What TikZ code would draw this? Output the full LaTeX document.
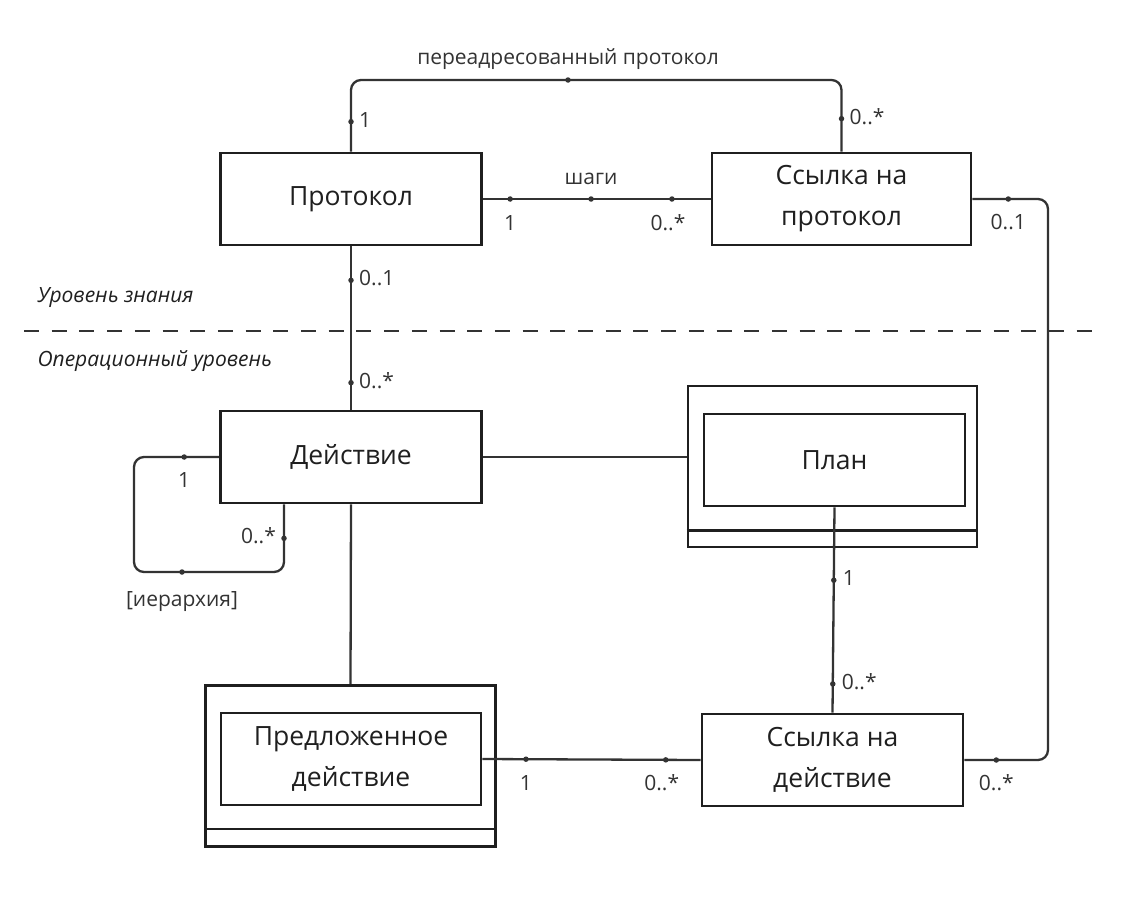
\documentclass[tikz,border=0pt]{standalone}
\usepackage{fontspec}
\setmainfont{Open Sans}
\usepackage{tikz}
\usetikzlibrary{positioning}
\definecolor{inkdark}{HTML}{1F1F1F}
\definecolor{inkline}{HTML}{333333}

\begin{document}
\begin{tikzpicture}[x=1pt, y=-1pt,
      klass/.style={draw=inkdark, line width=2.6pt, align=center, minimum width=261pt,
                    minimum height=92pt, inner sep=2pt, text=inkdark,
                    font=\fontsize{26.5}{41}\selectfont},
      frame/.style={draw=inkdark, line width=2.6pt, minimum width=289pt, minimum height=161pt},
      link/.style={draw=inkline, line width=2.3pt, rounded corners=10pt},
      dot/.style={circle, fill=inkline, inner sep=0pt, minimum size=5.5pt},
      mult/.style={font=\fontsize{21}{25}\selectfont, text=inkline, inner sep=1pt,
                   text height=15pt, text depth=4pt},
      level/.style={font=\fontsize{21}{25}\selectfont\itshape, text=inkdark, anchor=west},
      node distance=4pt]
    \useasboundingbox (0,0) rectangle (1140,907);

    \node[klass] (protokol) at (351,199) {Протокол};
    \node[klass, minimum width=259pt] (sslprot) at (841.5,199) {Ссылка на\\протокол};
    \node[klass] (dejstvie) at (351,457) {Действие};
    \node[frame] (planframe) at (832.5,466.5) {};
    \node[klass] (plan) at (834.5,460) {План};
    \node[frame, minimum width=290pt] (propframe) at (350.5,766) {};
    \node[klass, minimum width=260pt] (proposed) at (351,759) {Предложенное\\действие};
    \node[klass] (ssldej) at (832.5,760) {Ссылка на\\действие};
    \draw[draw=inkdark, line width=2.6pt] ([yshift=18pt]planframe.south west) -- ([yshift=18pt]planframe.south east);
    \draw[draw=inkdark, line width=2.6pt] ([yshift=19pt]propframe.south west) -- ([yshift=19pt]propframe.south east);

    \node[level] (knowledge) at (34,298) {Уровень знания};
    \node[level] (operational) at (34,361) {Операционный уровень};
    \coordinate (splitL) at (24,331);
    \coordinate (splitR) at (1097,331);
    \draw[inkline, line width=2.5pt, dash pattern=on 15pt off 12.7pt] (splitL) -- (splitR);

    \coordinate (fwd) at (568,80);
    \draw[link] (protokol.north) |- (fwd) -| (sslprot.north);
    \node[dot] (fwddot) at (fwd) {};
    \node[mult, above=10pt of fwd] (fwdname) {переадресованный протокол};
    \node[dot] (fwdA) at ([yshift=30pt]protokol.north) {};
    \node[mult, right=of fwdA] (fwdAm) {1};
    \node[dot] (fwdB) at ([yshift=33pt]sslprot.north) {};
    \node[mult, right=of fwdB] (fwdBm) {0..*};

    \draw[link] (protokol) -- (sslprot)
      node[dot, pos=0.12] (stepsA) {}
      node[dot, pos=0.475] (stepsM) {}
      node[dot, pos=0.83] (stepsB) {};
    \node[mult, above=5pt of stepsM] (stepsname) {шаги};
    \node[mult, below=11pt of stepsA] (stepsAm) {1};
    \node[mult, below=11pt of stepsB, xshift=-4pt] (stepsBm) {0..*};

    \draw[link] (protokol) -- (dejstvie);
    \node[dot] (kindA) at ([yshift=-34pt]protokol.south) {};
    \node[mult, right=of kindA] (kindAm) {0..1};
    \node[dot] (kindB) at ([yshift=27pt]dejstvie.north) {};
    \node[mult, right=of kindB] (kindBm) {0..*};

    \coordinate (loopcorner) at (134,572);
    \draw[link] (dejstvie.west) -| (loopcorner) -| ([xshift=-67pt]dejstvie.south);
    \node[dot] (hierA) at ([xshift=-35pt]dejstvie.west) {};
    \node[mult, below=11pt of hierA] (hierAm) {1};
    \node[dot] (hierB) at ([xshift=-67pt, yshift=-34pt]dejstvie.south) {};
    \node[mult, left=of hierB] (hierBm) {0..*};
    \node[dot] (hierdot) at (182,572) {};
    \node[mult, below=15pt of hierdot] (hiername) {[иерархия]};

    \draw[link] (dejstvie.east) -- (dejstvie.east -| planframe.west);
    \draw[link] (dejstvie.south) -- (propframe.north);

    \draw[link] (plan.south) -- (ssldej.north)
      node[dot, pos=0.355] (planA) {}
      node[dot, pos=0.86] (planB) {};
    \node[mult, right=of planA] (planAm) {1};
    \node[mult, right=of planB] (planBm) {0..*};

    \draw[link] (proposed.east) -- (ssldej.west)
      node[dot, pos=0.2] (refA) {}
      node[dot, pos=0.84] (refB) {};
    \node[mult, below=11pt of refA] (refAm) {1};
    \node[mult, below=11pt of refB, xshift=-4pt] (refBm) {0..*};

    \coordinate (rbottom) at (1048,760);
    \draw[link] (sslprot.east) -| (rbottom) -- (ssldej.east);
    \node[dot] (backA) at ([xshift=36pt]sslprot.east) {};
    \node[mult, below=11pt of backA] (backAm) {0..1};
    \node[dot] (backB) at ([xshift=32pt]ssldej.east) {};
    \node[mult, below=11pt of backB] (backBm) {0..*};
  \end{tikzpicture}
\end{document}
